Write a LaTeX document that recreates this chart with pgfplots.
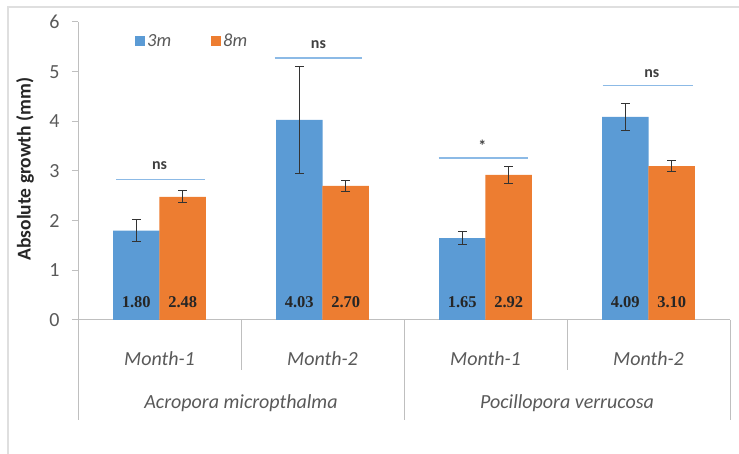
\documentclass[border=0pt]{standalone}
\usepackage{pgfplots}
\pgfplotsset{compat=1.18}
\usepackage{fontspec}
\setmainfont{Carlito}
\newfontfamily\valfont{Liberation Serif}

\definecolor{bblue}{HTML}{5B9BD5}
\definecolor{borange}{HTML}{ED7D31}
\definecolor{sigblue}{RGB}{140,186,230}
\definecolor{txtgray}{HTML}{595959}
\definecolor{axgray}{HTML}{BFBFBF}

\pgfplotsset{
  valuelabels/.style={
    nodes near coords={\pgfmathprintnumber[fixed,fixed zerofill,precision=2,assume math mode=true]{\pgfplotspointmeta}},
    visualization depends on={y \as \rawy},
    every node near coord/.append style={anchor=center,
      font=\valfont\bfseries\fontsize{16.5}{18}\selectfont, text=black!85,
      yshift={(0.352-\rawy)*49.667pt}},
  },
  errstyle/.style={
    error bars/.cd, y dir=both, y explicit,
    error bar style={black!80, line width=0.9pt},
    error mark options={rotate=90, mark size=4.5pt, black!80, line width=0.9pt},
  },
}

\begin{document}
\begin{tikzpicture}
\useasboundingbox (0,0) rectangle (739pt,454pt);
\draw[gray!25, line width=1.5pt] (8pt,0) -- (8pt,447pt) -- (739pt,447pt);
\node[rotate=90, font=\fontsize{19.5}{22}\selectfont\bfseries, text=black!85]
  at (25pt,285pt) {Absolute growth (mm)};
\begin{axis}[
  at={(78pt,134pt)}, anchor=south west,
  scale only axis, width=652pt, height=298pt,
  xmin=-0.5, xmax=3.5, ymin=0, ymax=6,
  axis x line*=bottom, axis y line*=left,
  axis line style={axgray, line width=1pt},
  clip=false,
  xtick={0,1,2,3},
  xticklabels={Month-1,Month-2,Month-1,Month-2},
  x tick style={draw=none},
  xticklabel style={anchor=center, yshift=-33pt,
    font=\fontsize{20}{24}\selectfont\itshape, text=txtgray},
  ytick={0,1,...,6},
  y tick style={axgray, line width=1pt},
  tick align=outside, major tick length=6pt,
  yticklabel style={anchor=east, xshift=-9pt,
    font=\fontsize{20}{24}\selectfont, text=txtgray},
  /pgf/number format/assume math mode=true,
  legend style={draw=none, fill=none, inner sep=0pt,
    at={(rel axis cs:0.0874,0.937)}, anchor=west,
    legend columns=2, font=\fontsize{18.5}{22}\selectfont\itshape, text=txtgray,
    nodes={inner sep=2pt},
    /tikz/every even column/.append style={column sep=38pt}},
  legend image code/.code={\fill[#1, draw=none] (0pt,-5pt) rectangle (10pt,5pt);},
]

% 3m (left bar of each category)
\addplot[ybar, bar width=46.5pt, bar shift=0pt, fill=bblue, draw=none,
  valuelabels, errstyle] coordinates {
  (-0.1426,1.80) +- (0,0.22)
  (0.8574,4.03) +- (0,1.08)
  (1.8574,1.65) +- (0,0.13)
  (2.8574,4.09) +- (0,0.27)
};
\addlegendentry{3m}

% 8m (right bar of each category)
\addplot[ybar, bar width=46.5pt, bar shift=0pt, fill=borange, draw=none,
  valuelabels, errstyle] coordinates {
  (0.1426,2.48) +- (0,0.12)
  (1.1426,2.70) +- (0,0.11)
  (2.1426,2.92) +- (0,0.18)
  (3.1426,3.10) +- (0,0.11)
};
\addlegendentry{8m}

% significance lines
\addplot[sigblue, line width=1.6pt, mark=none, forget plot] coordinates {(-0.264,2.83) (0.282,2.83)};
\addplot[sigblue, line width=1.6pt, mark=none, forget plot] coordinates {(0.706,5.28) (1.245,5.28)};
\addplot[sigblue, line width=1.6pt, mark=none, forget plot] coordinates {(1.712,3.26) (2.258,3.26)};
\addplot[sigblue, line width=1.6pt, mark=none, forget plot] coordinates {(2.718,4.72) (3.270,4.72)};

\begin{scope}[every node/.style={font=\fontsize{16}{18}\selectfont\bfseries, text=black!75}]
\node at (axis cs:0,3.10) {ns};
\node at (axis cs:0.975,5.54) {ns};
\node at (axis cs:1.98,3.50) {*};
\node at (axis cs:3.02,4.97) {ns};
\end{scope}

% category separators
\draw[axgray, line width=1pt] (axis cs:-0.5,0) -- ([yshift=-100pt]axis cs:-0.5,0);
\draw[axgray, line width=1pt] (axis cs:0.5,0) -- ([yshift=-50pt]axis cs:0.5,0);
\draw[axgray, line width=1pt] (axis cs:1.5,0) -- ([yshift=-100pt]axis cs:1.5,0);
\draw[axgray, line width=1pt] (axis cs:2.5,0) -- ([yshift=-50pt]axis cs:2.5,0);
\draw[axgray, line width=1pt] (axis cs:3.5,0) -- ([yshift=-100pt]axis cs:3.5,0);

\begin{scope}[every node/.style={font=\fontsize{20}{24}\selectfont\itshape, text=txtgray}]
\node at ([yshift=-83pt]axis cs:0.5,0) {Acropora micropthalma};
\node at ([yshift=-83pt]axis cs:2.5,0) {Pocillopora verrucosa};
\end{scope}
\end{axis}
\end{tikzpicture}
\end{document}
